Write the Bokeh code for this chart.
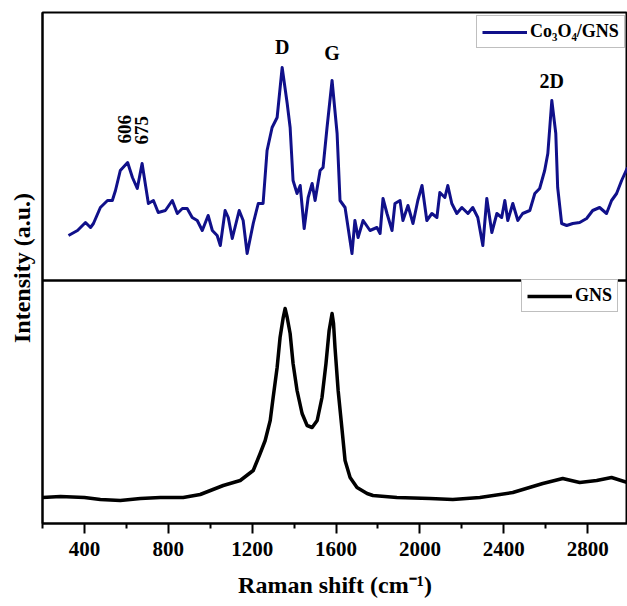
import numpy as np
from bokeh.plotting import figure
from bokeh.models import Range1d, Span, Legend, LegendItem, FixedTicker, ColumnDataSource
from bokeh.core.properties import value
from bokeh.embed import file_html
from bokeh.resources import INLINE

# Co3O4/GNS Raman spectrum (shift in cm^-1, intensity in a.u.)
shift_composite = [324, 367, 405, 429, 443, 476, 510, 533, 548, 571, 606, 629, 652, 675,
                   705, 729, 752, 786, 819, 843, 867, 890, 914, 938, 962, 990, 1010, 1033,
                   1048, 1071, 1086, 1105, 1138, 1157, 1176, 1205, 1229, 1252, 1271, 1295,
                   1319, 1343, 1367, 1381, 1395, 1414, 1429, 1448, 1467, 1486, 1500, 1524,
                   1538, 1557, 1581, 1605, 1619, 1643, 1676, 1690, 1705, 1729, 1762, 1795,
                   1810, 1824, 1843, 1867, 1881, 1905, 1919, 1943, 1967, 1990, 2010, 2033,
                   2057, 2081, 2095, 2119, 2133, 2152, 2176, 2200, 2229, 2252, 2276, 2300,
                   2319, 2343, 2367, 2390, 2405, 2419, 2443, 2467, 2490, 2524, 2548, 2571,
                   2595, 2610, 2629, 2648, 2657, 2676, 2700, 2729, 2762, 2795, 2824, 2857,
                   2890, 2914, 2938, 2962, 2990]
intensity_composite = [45, 50, 58, 53, 57, 73, 80, 80, 90, 110, 118, 103, 92, 117,
                       77, 80, 68, 70, 80, 67, 72, 72, 63, 60, 50, 65, 50, 45,
                       35, 70, 63, 42, 70, 60, 27, 57, 77, 77, 130, 153,
                       163, 213, 177, 153, 100, 87, 95, 52, 83, 97, 80, 110,
                       113, 153, 200, 147, 80, 73, 27, 60, 43, 60, 50, 53,
                       47, 82, 67, 50, 77, 80, 60, 75, 57, 80, 95, 60,
                       67, 63, 88, 83, 95, 77, 67, 73, 67, 73, 63, 35,
                       82, 48, 67, 63, 80, 60, 77, 60, 67, 70, 87, 92,
                       110, 127, 180, 147, 93, 57, 55, 57, 58, 62, 70, 73,
                       67, 80, 87, 100, 113]

# GNS Raman spectrum
shift_gns = [200, 286, 400, 476, 571, 667, 762, 871, 952, 1062, 1143, 1205, 1238, 1262,
             1286, 1300, 1319, 1333, 1348, 1357, 1367, 1381, 1395, 1414, 1438, 1462, 1486,
             1510, 1533, 1552, 1567, 1581, 1588, 1595, 1610, 1629, 1643, 1667, 1700, 1748,
             1776, 1890, 2048, 2157, 2286, 2443, 2586, 2681, 2762, 2843, 2914, 2990]
intensity_gns = [26, 27, 26, 24, 23, 25, 26, 26, 29, 38, 43, 53, 70, 83,
                 103, 126, 156, 186, 206, 215, 206, 190, 160, 133, 110, 98, 96,
                 103, 126, 160, 193, 210, 200, 176, 133, 93, 63, 46, 36, 30,
                 28, 26, 25, 24, 26, 31, 40, 45, 41, 43, 46, 41]

peak_names = ["D", "G", "2D"]
peak_shifts = [1343, 1581, 2629]
peak_gaps = [-10, -17, -9]
oxide_peaks = [606, 675]
oxide_nudge = [-3, -1]

x_ticks = [400, 800, 1200, 1600, 2000, 2400, 2800]
x_minor = [200, 600, 1000, 1400, 1800, 2200, 2600, 3000]

SERIF = "Liberation Serif"
NAVY = "#10108a"

p = figure(width=627, height=606, x_range=Range1d(200, 2990), y_range=Range1d(0, 511),
           output_backend="svg", toolbar_location=None,
           min_border_left=42, min_border_right=0, min_border_top=12, min_border_bottom=83)
p.extra_y_ranges = {"top": Range1d(-243, 268)}
p.grid.visible = False
p.background_fill_color = "white"
p.border_fill_color = "white"
p.outline_line_color = "black"
p.outline_line_width = 2

# x axis
xa = p.xaxis[0]
xa.ticker = FixedTicker(ticks=x_ticks, minor_ticks=x_minor)
xa.axis_line_width = 2
xa.major_tick_line_width = 2
xa.minor_tick_line_width = 2
xa.major_tick_out = 10
xa.major_tick_in = 0
xa.minor_tick_out = 5
xa.minor_tick_in = 0
xa.major_label_text_font = SERIF
xa.major_label_text_font_style = "bold"
xa.major_label_text_font_size = "21px"
xa.major_label_text_color = "black"
xa.major_label_standoff = 8
xa.axis_label = "Raman shift (cm\u207b\u00b9)"
xa.axis_label_text_font = SERIF
xa.axis_label_text_font_style = "bold"
xa.axis_label_text_font_size = "24px"
xa.axis_label_text_color = "black"
xa.axis_label_standoff = 13

# y axis: label only
ya = p.yaxis[0]
ya.ticker = FixedTicker(ticks=[])
ya.major_label_text_font_size = "0px"
ya.major_tick_out = 0
ya.minor_tick_out = 0
ya.axis_line_width = 2
ya.axis_label = "Intensity (a.u.)"
ya.axis_label_text_font = SERIF
ya.axis_label_text_font_style = "bold"
ya.axis_label_text_font_size = "24px"
ya.axis_label_text_color = "black"
ya.axis_label_standoff = 8

# panel divider
p.add_layout(Span(location=243, dimension="width", line_color="black", line_width=2.5))

r_top = p.line(shift_composite, intensity_composite, y_range_name="top",
               line_color=NAVY, line_width=3, line_join="round")
r_bot = p.line(shift_gns, intensity_gns, line_color="black", line_width=3.5, line_join="round")

# peak annotations
peak_src = ColumnDataSource(dict(
    x=peak_shifts,
    y=np.interp(peak_shifts, shift_composite, intensity_composite),
    name=peak_names, gap=peak_gaps))
p.text(x="x", y="y", text="name", y_offset="gap", source=peak_src, y_range_name="top",
       text_font=value(SERIF), text_font_style="bold", text_font_size="20px",
       text_align="center", text_baseline="bottom", text_color="black")

ox_src = ColumnDataSource(dict(
    x=oxide_peaks,
    y=np.interp(oxide_peaks, shift_composite, intensity_composite),
    name=[str(v) for v in oxide_peaks], nudge=oxide_nudge))
p.text(x="x", y="y", text="name", source=ox_src, y_range_name="top", angle=np.pi / 2,
       x_offset="nudge", y_offset=-19,
       text_font=value(SERIF), text_font_style="bold", text_font_size="19px",
       text_align="left", text_baseline="middle", text_color="black")


def make_legend(label, renderer, loc):
    lg = Legend(items=[LegendItem(label=label, renderers=[renderer])], location=loc,
                label_text_font=SERIF, label_text_font_style="bold",
                label_text_font_size="18px", label_text_color="black",
                glyph_width=45, glyph_height=20, label_standoff=3, padding=5,
                spacing=0, margin=0, border_line_color="#808080", border_line_width=1.5,
                background_fill_color="white", background_fill_alpha=1)
    p.add_layout(lg)


make_legend("Co\u2083O\u2084/GNS", r_top, (434, 475))
make_legend("GNS", r_bot, (479, 211))

open("out.html", "w").write(file_html(p, INLINE))
